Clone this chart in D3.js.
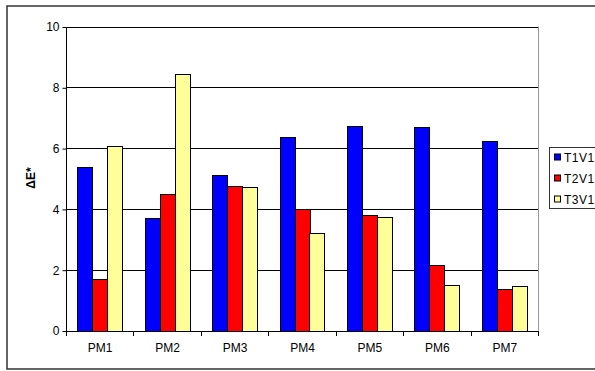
<!DOCTYPE html>
<html><head><meta charset="utf-8">
<script src="https://cdn.jsdelivr.net/npm/d3@7"></script>
<style>body{margin:0;background:#fff}svg{display:block}text{font-family:Arial,"Liberation Sans",sans-serif}</style>
</head><body><svg id="c" width="595" height="371"></svg>
<script>
const categories = ["PM1","PM2","PM3","PM4","PM5","PM6","PM7"];
const seriesNames = ["T1V1","T2V1","T3V1"];
const T1V1 = [5.39,3.69,5.11,6.38,6.73,6.70,6.25];
const T2V1 = [1.69,4.48,4.76,4.00,3.79,2.15,1.38];
const T3V1 = [6.06,8.43,4.71,3.21,3.72,1.51,1.48];
const colors = ["#0000FF","#FF0000","#FFFF99"];
const yTicks = [0,2,4,6,8,10];
const yLabel = "ΔE*";

const values = [T1V1,T2V1,T3V1];
const svg = d3.select("#c");
const L=66, R=538, T=26.5, B=330.5;

// outer border
svg.append("rect").attr("x",7).attr("y",6).attr("width",600).attr("height",363)
  .attr("fill","none").attr("stroke","#333").attr("stroke-width",1.5);

const y = d3.scaleLinear().domain([0,10]).range([B,T]);
const x = d3.scaleBand().domain(categories).range([L,R]).padding(0);
const bw = x.bandwidth();
const groupW = bw*3/4.5;
const xs = d3.scaleBand().domain(seriesNames).range([(bw-groupW)/2,(bw+groupW)/2]).padding(0);

// gridlines
svg.append("g").selectAll("line").data(yTicks.filter(d=>d>0)).join("line")
  .attr("x1",L).attr("x2",R).attr("y1",d=>Math.round(y(d))+0.5).attr("y2",d=>Math.round(y(d))+0.5)
  .attr("stroke","#000").attr("stroke-width",1);
// right plot border
svg.append("line").attr("x1",R+0.5).attr("x2",R+0.5).attr("y1",T).attr("y2",B).attr("stroke","#999");

// bars
const g = svg.append("g");
seriesNames.forEach((s,si)=>{
  g.append("g").selectAll("rect").data(categories).join("rect")
    .attr("x",(c)=>Math.round(x(c)+xs(s))+0.5)
    .attr("y",(c,i)=>Math.round(y(values[si][i]))+0.5)
    .attr("width",Math.round(xs.bandwidth()))
    .attr("height",(c,i)=>Math.round(y(0))-Math.round(y(values[si][i])))
    .attr("fill",colors[si]).attr("stroke","#000").attr("stroke-width",1);
});

// y axis
const ya = svg.append("g").attr("transform",`translate(${L+0.5},0.5)`)
  .call(d3.axisLeft(y).tickValues(yTicks).tickSize(4).tickPadding(3).tickFormat(d3.format("d")));
ya.select(".domain").attr("stroke","#000").attr("d",`M0,${T}V${B}`);
ya.selectAll(".tick line").attr("stroke","#000");
ya.selectAll("text").attr("font-size",12).attr("fill","#000").style("font-family","Arial, Liberation Sans");

// x axis
const xa = svg.append("g").attr("transform",`translate(0.5,${Math.round(B)+0.5})`)
  .call(d3.axisBottom(x).tickSize(0).tickPadding(12));
xa.select(".domain").attr("stroke","#000").attr("d",`M${L},0H${R}`);
xa.selectAll("text").attr("font-size",12).attr("fill","#000").style("font-family","Arial, Liberation Sans");
const tickPos = categories.map(c=>x(c)).concat([R]);
svg.append("g").selectAll("line").data(tickPos).join("line")
  .attr("x1",d=>Math.round(d)+0.5).attr("x2",d=>Math.round(d)+0.5)
  .attr("y1",Math.round(B)).attr("y2",Math.round(B)+5).attr("stroke","#000");

// y label
svg.append("text").attr("transform","translate(35,178) rotate(-90)")
  .attr("text-anchor","middle").attr("font-size",12).attr("font-weight","bold").text(yLabel);

// legend
const lg = svg.append("g");
lg.append("rect").attr("x",549.5).attr("y",147.5).attr("width",60).attr("height",61)
  .attr("fill","#fff").attr("stroke","#333");
seriesNames.forEach((s,i)=>{
  const cy = 157.5 + i*21;
  lg.append("rect").attr("x",554.5).attr("y",cy-3.5).attr("width",6).attr("height",6)
    .attr("fill",colors[i]).attr("stroke","#000");
  lg.append("text").attr("x",564).attr("y",cy+4).attr("font-size",12).attr("letter-spacing",0.5).text(s);
});
</script></body></html>
